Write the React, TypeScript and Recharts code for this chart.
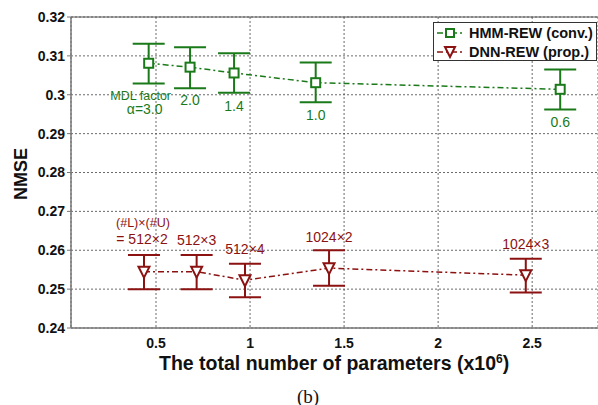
import React from 'react';
import { LineChart, Line, XAxis, YAxis, CartesianGrid, ErrorBar, LabelList, ReferenceLine } from 'recharts';

const GREEN = '#1a7a1a';
const RED = '#8c1111';
const FONT = '"Liberation Sans", Arial, sans-serif';

// HMM-REW (conv.)
const hmmParams = [0.461, 0.681, 0.915, 1.349, 2.649];
const hmmNmse = [0.3081, 0.3071, 0.3056, 0.3031, 0.3014];
const hmmLow = [0.3029, 0.3017, 0.3005, 0.2981, 0.2962];
const hmmHigh = [0.3131, 0.3122, 0.3107, 0.3083, 0.3065];
const hmmLabels = ['α=3.0', '2.0', '1.4', '1.0', '0.6'];

// DNN-REW (prop.)
const dnnParams = [0.436, 0.716, 0.973, 1.42, 2.466];
const dnnNmse = [0.2545, 0.2545, 0.2523, 0.2554, 0.2536];
const dnnLow = [0.25, 0.25, 0.2479, 0.2509, 0.2491];
const dnnHigh = [0.2588, 0.2588, 0.2565, 0.26, 0.2578];
const dnnLabels = ['512×2', '512×3', '512×4', '1024×2', '1024×3'];

const xTicks = [0.5, 1, 1.5, 2, 2.5];
const yTicks = [0.24, 0.25, 0.26, 0.27, 0.28, 0.29, 0.3, 0.31, 0.32];

const build = (xs: number[], ys: number[], lo: number[], hi: number[], labels: string[]) =>
  xs.map((x, i) => ({ x, y: ys[i], err: [ys[i] - lo[i], hi[i] - ys[i]], label: labels[i] }));

const hmmData = build(hmmParams, hmmNmse, hmmLow, hmmHigh, hmmLabels);
const dnnData = build(dnnParams, dnnNmse, dnnLow, dnnHigh, dnnLabels);

const Square = (props: any) => {
  const { cx, cy } = props;
  if (cx == null || cy == null) return null;
  return <rect x={cx - 4.5} y={cy - 4.5} width={9} height={9} fill="#fff" stroke={GREEN} strokeWidth={2} />;
};

const Triangle = (props: any) => {
  const { cx, cy } = props;
  if (cx == null || cy == null) return null;
  return (
    <path d={`M${cx - 5.5},${cy - 5} L${cx + 5.5},${cy - 5} L${cx},${cy + 6} Z`} fill="#fff" stroke={RED} strokeWidth={2} />
  );
};

const HmmLabel = (props: any) => {
  const { x, y, value, index } = props;
  if (index === 0) {
    return (
      <g fontFamily={FONT} fill={GREEN}>
        <text x={x - 8} y={y + 33} textAnchor="middle" dominantBaseline="middle" fontSize={12.5}>MDL factor</text>
        <text x={x - 4} y={y + 47} textAnchor="middle" dominantBaseline="middle" fontSize={14}>{value}</text>
      </g>
    );
  }
  return (
    <text x={x} y={y + 34} textAnchor="middle" dominantBaseline="middle" fontSize={14} fontFamily={FONT} fill={GREEN}>
      {value}
    </text>
  );
};

const DnnLabel = (props: any) => {
  const { x, y, value, index } = props;
  if (index === 0) {
    return (
      <g fontFamily={FONT} fill={RED}>
        <text x={x - 1} y={y - 48} textAnchor="middle" dominantBaseline="middle" fontSize={12.5}>(#L)×(#U)</text>
        <text x={x - 2} y={y - 31} textAnchor="middle" dominantBaseline="middle" fontSize={14}>= {value}</text>
      </g>
    );
  }
  return (
    <text x={x} y={y - 30} textAnchor="middle" dominantBaseline="middle" fontSize={14} fontFamily={FONT} fill={RED}>
      {value}
    </text>
  );
};

const LegendRow = ({ color, shape, text }: { color: string; shape: 'square' | 'tri'; text: string }) => (
  <div style={{ display: 'flex', alignItems: 'center', height: 19, whiteSpace: 'nowrap' }}>
    <svg width={28} height={14} style={{ marginRight: 5, flexShrink: 0 }}>
      <line x1={1} y1={7} x2={27} y2={7} stroke={color} strokeWidth={1.5} strokeDasharray="6 3 2 3" />
      {shape === 'square' ? (
        <rect x={10} y={3} width={8} height={8} fill="#fff" stroke={color} strokeWidth={2} />
      ) : (
        <path d="M9,2 L19,2 L14,12 Z" fill="#fff" stroke={color} strokeWidth={2} />
      )}
    </svg>
    <span style={{ fontWeight: 'bold', fontSize: 14.5, color: '#111' }}>{text}</span>
  </div>
);

export default function App() {
  const tick = { fontSize: 14, fontWeight: 'bold', fill: '#111', fontFamily: FONT };
  return (
    <div style={{ position: 'absolute', left: 0, top: 0, width: 598, height: 405, background: '#fff', fontFamily: FONT, overflow: 'hidden' }}>
      <LineChart width={598} height={405} margin={{ top: 17, right: 0, bottom: 47, left: 0 }}>
        <CartesianGrid stroke="#444" strokeDasharray="2 2" strokeWidth={0.8} />
        <XAxis
          type="number"
          dataKey="x"
          domain={[0.048, 2.85]}
          allowDataOverflow
          ticks={xTicks}
          tick={tick}
          tickLine={false}
          axisLine={{ stroke: '#777', strokeWidth: 1.5 }}
          height={30}
          tickMargin={4}
        />
        <YAxis
          type="number"
          domain={[0.24, 0.32]}
          ticks={yTicks}
          tick={tick}
          tickSize={4}
          tickLine={{ stroke: '#777' }}
          axisLine={{ stroke: '#777', strokeWidth: 1.5 }}
          width={71}
          interval={0}
        />
        <ReferenceLine y={0.32} stroke="#555" strokeWidth={1} />
        <Line
          data={hmmData}
          dataKey="y"
          stroke={GREEN}
          strokeWidth={1.5}
          strokeDasharray="6 3 2 3"
          dot={<Square />}
          activeDot={false}
          isAnimationActive={false}
        >
          <ErrorBar dataKey="err" direction="y" width={16} stroke={GREEN} strokeWidth={2} />
          <LabelList dataKey="label" content={<HmmLabel />} />
        </Line>
        <Line
          data={dnnData}
          dataKey="y"
          stroke={RED}
          strokeWidth={1.5}
          strokeDasharray="6 3 2 3"
          dot={<Triangle />}
          activeDot={false}
          isAnimationActive={false}
        >
          <ErrorBar dataKey="err" direction="y" width={16} stroke={RED} strokeWidth={2} />
          <LabelList dataKey="label" content={<DnnLabel />} />
        </Line>
      </LineChart>

      <div
        style={{
          position: 'absolute',
          left: 433,
          top: 22,
          width: 164,
          height: 39,
          border: '1px solid #333',
          background: '#fff',
          padding: '0 0 0 2px',
          boxSizing: 'border-box',
          overflow: 'hidden',
        }}
      >
        <LegendRow color={GREEN} shape="square" text="HMM-REW (conv.)" />
        <LegendRow color={RED} shape="tri" text="DNN-REW (prop.)" />
      </div>

      <div
        style={{
          position: 'absolute',
          left: 20.5,
          top: 173.5,
          transform: 'translate(-50%, -50%) rotate(-90deg)',
          fontWeight: 'bold',
          fontSize: 18,
          lineHeight: 1,
          color: '#111',
          whiteSpace: 'nowrap',
        }}
      >
        NMSE
      </div>

      <div
        style={{
          position: 'absolute',
          left: 159,
          top: 352,
          fontWeight: 'bold',
          fontSize: 19.5,
          lineHeight: 1.2,
          color: '#111',
          whiteSpace: 'nowrap',
        }}
      >
        The total number of parameters (x10<sup style={{ fontSize: 12, lineHeight: 0 }}>6</sup>)
      </div>

      <div
        style={{
          position: 'absolute',
          left: 308,
          top: 396,
          transform: 'translate(-50%, -50%)',
          fontFamily: '"Liberation Serif", "Times New Roman", serif',
          fontSize: 19,
          lineHeight: 1,
          color: '#111',
        }}
      >
        (b)
      </div>
    </div>
  );
}
